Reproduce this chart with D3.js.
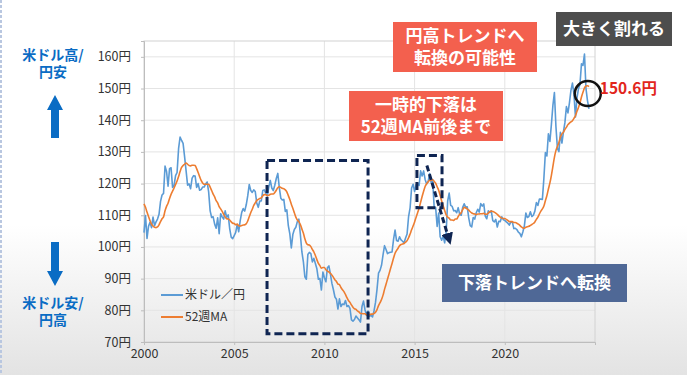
<!DOCTYPE html>
<html>
<head>
<meta charset="utf-8">
<script src="https://cdnjs.cloudflare.com/ajax/libs/d3/7.8.5/d3.min.js"></script>
<style>
  body { margin: 0; background: #fff; }
  svg { display: block; font-family: "Noto Sans CJK JP", "Noto Sans", sans-serif; }
</style>
</head>
<body>
<div id="vis"></div>
<script>
// monthly USD/JPY, Jan 2000 .. Sep 2024
const startYear = 2000;
const usdjpy = [
  104.5,109.9,102.7,106.5,107.8,106.1,109.4,106.7,107.9,108.8,110.3,114.4,
  116.4,116.9,125.5,123.8,119.2,124.7,125.0,118.8,119.4,122.5,123.5,131.0,
  134.7,133.6,132.7,128.5,124.0,119.5,119.9,118.4,121.7,122.5,122.4,118.8,
  120.0,117.9,118.1,118.9,118.9,119.9,120.5,117.4,111.4,109.3,109.5,107.2,
  105.9,109.2,104.2,110.5,109.5,108.8,111.4,109.4,110.1,105.8,103.1,102.6,
  103.6,104.6,107.1,104.8,108.3,110.9,112.1,111.3,113.3,116.1,119.7,117.8,
  117.2,118.0,117.5,113.9,112.5,114.5,114.5,117.8,118.0,117.0,116.0,118.9,
  121.0,118.6,117.8,119.5,121.6,123.2,118.7,115.4,114.8,115.0,111.2,111.7,
  106.7,104.1,99.7,103.9,105.5,106.2,108.0,108.8,104.0,98.5,95.4,90.6,
  89.8,97.6,98.3,97.9,95.3,96.4,94.8,93.1,89.8,90.1,86.4,92.1,
  90.3,89.0,93.4,94.0,91.4,88.5,86.5,84.2,83.5,80.4,83.6,81.2,
  82.0,81.8,83.1,81.2,81.5,80.6,77.0,76.6,77.1,78.2,77.6,77.0,
  76.3,81.2,82.9,80.2,78.4,79.8,78.1,78.4,77.9,79.8,82.5,86.6,
  91.7,92.6,94.2,97.5,100.4,99.2,97.9,98.2,98.3,98.4,102.4,105.3,
  102.0,101.8,103.2,102.2,101.8,101.3,102.8,104.1,109.6,112.3,118.6,119.8,
  117.5,119.6,120.1,119.4,124.0,122.4,124.0,121.3,119.9,120.6,123.2,120.3,
  121.0,112.7,112.4,106.5,110.7,103.2,102.1,103.4,101.3,104.8,114.5,117.0,
  113.1,112.8,111.4,111.5,110.8,112.4,110.3,110.0,112.5,113.6,112.5,112.7,
  109.2,106.7,106.3,109.3,108.8,110.8,111.9,111.0,113.7,112.9,113.6,109.7,
  108.9,111.4,110.9,111.4,108.3,107.9,108.7,106.3,108.1,108.0,109.5,108.6,
  108.4,107.9,107.5,106.9,107.8,107.9,105.8,105.9,105.5,104.7,104.3,103.2,
  104.7,106.6,110.7,109.3,109.6,111.1,109.6,110.0,111.3,114.0,113.1,115.1,
  115.1,115.0,121.7,129.8,128.7,135.7,133.3,138.7,144.7,148.7,138.1,131.1,
  130.1,136.2,132.8,136.3,139.3,144.3,142.3,145.5,149.4,151.7,148.2,141.0,
  147.0,149.9,151.3,157.8,157.3,160.9,150.0,146.2,143.6
];
// 52-week moving average, same months
const ma52 = [
  113.6,112.5,111.0,109.6,108.3,107.2,106.6,106.2,106.1,106.3,107.0,108.0,
  108.9,109.5,111.4,112.8,113.8,115.3,116.6,117.6,118.6,119.7,120.8,122.2,
  123.8,125.1,125.7,126.1,126.5,126.1,125.7,125.6,125.8,125.8,125.7,124.7,
  123.5,122.2,121.0,120.2,119.8,119.8,119.8,119.8,118.9,117.8,116.7,115.8,
  114.6,113.9,112.7,112.0,111.2,110.3,109.5,108.9,108.8,108.5,107.9,107.5,
  107.4,107.0,107.2,106.7,106.6,106.8,106.9,107.0,107.3,108.2,109.5,110.8,
  111.9,113.1,113.9,114.7,115.0,115.3,115.5,116.1,116.5,116.5,116.2,116.3,
  116.6,116.7,116.7,117.2,117.9,118.7,119.0,118.8,118.5,118.4,118.0,117.4,
  116.2,115.0,113.5,112.2,110.8,109.4,108.5,108.0,107.1,105.7,104.4,102.6,
  101.2,100.7,100.6,100.1,99.2,98.4,97.3,96.0,94.8,94.1,93.3,93.5,
  93.5,92.8,92.4,92.1,91.7,91.1,90.4,89.6,89.1,88.3,88.1,87.2,
  86.5,85.9,85.0,84.0,83.1,82.5,81.7,81.0,80.5,80.3,79.8,79.5,
  79.0,79.0,78.9,78.9,78.6,78.5,78.6,78.8,78.8,79.0,79.4,80.2,
  81.5,82.4,83.4,84.8,86.6,88.2,89.9,91.5,93.2,94.8,96.5,98.0,
  98.9,99.6,100.4,100.8,100.9,101.1,101.5,102.0,102.9,104.1,105.4,106.6,
  107.9,109.4,110.8,112.2,114.1,115.9,117.6,119.1,119.9,120.6,121.0,121.0,
  121.3,120.7,120.1,119.0,117.9,116.3,114.5,113.0,111.5,110.1,109.4,109.1,
  108.5,108.5,108.4,108.8,108.8,109.6,110.3,110.8,111.8,112.5,112.3,112.0,
  111.6,111.1,110.7,110.5,110.4,110.2,110.4,110.4,110.5,110.5,110.6,110.3,
  110.3,110.7,111.1,111.3,111.2,111.0,110.7,110.3,109.8,109.4,109.1,109.0,
  109.0,108.7,108.4,108.0,108.0,108.0,107.7,107.7,107.5,107.2,106.8,106.3,
  106.0,105.9,106.2,106.4,106.5,106.8,107.1,107.4,107.9,108.7,109.4,110.4,
  111.3,112.0,112.9,114.6,116.2,118.3,120.2,122.6,125.4,128.3,130.4,131.7,
  133.0,134.7,135.7,136.2,137.1,137.8,138.6,139.1,139.5,139.8,140.6,141.4,
  142.8,144.0,145.5,147.3,148.8,150.2,150.8,150.9,150.6
];
const yTicks = [70, 80, 90, 100, 110, 120, 130, 140, 150, 160];
const xTicks = [2000, 2005, 2010, 2015, 2020];
const seriesNames = ["米ドル／円", "52週MA"];
const lastMaLabel = "150.6円";

const W = 687, H = 375;
const plot = {left: 144, right: 595, top: 41, bottom: 342};

const svg = d3.select("#vis").append("svg").attr("width", W).attr("height", H);

// slide background: white fading to grey at the bottom
const defs = svg.append("defs");
const grad = defs.append("linearGradient").attr("id", "bg").attr("x1", 0).attr("y1", 0).attr("x2", 0).attr("y2", 1);
grad.append("stop").attr("offset", "0.6").attr("stop-color", "#ffffff");
grad.append("stop").attr("offset", "1").attr("stop-color", "#e3e3e3");
svg.append("rect").attr("width", W).attr("height", H).attr("fill", "url(#bg)");
svg.append("line").attr("x1", 1).attr("x2", 1).attr("y1", 0).attr("y2", H)
  .attr("stroke", "#b9c7e0").attr("stroke-width", 2).attr("stroke-dasharray", "3,2");

const x = d3.scaleLinear().domain([2000, 2025]).range([plot.left, plot.right]);
const y = d3.scaleLinear().domain([70, 165]).range([plot.bottom, plot.top]);

// grid
svg.append("g").selectAll("line").data(yTicks.slice(1)).join("line")
  .attr("x1", plot.left).attr("x2", plot.right)
  .attr("y1", d => y(d)).attr("y2", d => y(d))
  .attr("stroke", "#e4e4e4").attr("stroke-width", 1);
svg.append("g").selectAll("line").data(xTicks.slice(1)).join("line")
  .attr("x1", d => x(d)).attr("x2", d => x(d))
  .attr("y1", plot.top).attr("y2", plot.bottom)
  .attr("stroke", "#e4e4e4").attr("stroke-width", 1);
svg.append("rect")
  .attr("x", plot.left).attr("y", plot.top)
  .attr("width", plot.right - plot.left).attr("height", plot.bottom - plot.top)
  .attr("fill", "none").attr("stroke", "#d2d2d2");

// axes
const yAxis = svg.append("g").attr("transform", "translate(" + plot.left + ",0)")
  .call(d3.axisLeft(y).tickValues(yTicks).tickSize(3).tickPadding(10).tickFormat(d => d + "円"));
const xAxis = svg.append("g").attr("transform", "translate(0," + plot.bottom + ")")
  .call(d3.axisBottom(x).tickValues(xTicks).tickSize(3).tickPadding(4).tickFormat(d3.format("d")));
[yAxis, xAxis].forEach(a => {
  a.select(".domain").attr("stroke", "#bdbdbd");
  a.selectAll(".tick line").attr("stroke", "#bdbdbd");
  a.selectAll("text").attr("fill", "#333").style("font-size", "12.5px")
    .style("font-family", "'Noto Sans CJK JP', sans-serif");
});

// lines
const monthX = i => startYear + i / 12;
svg.append("path").datum(usdjpy)
  .attr("fill", "none").attr("stroke", "#5b9bd5").attr("stroke-width", 1.6)
  .attr("stroke-linejoin", "round")
  .attr("d", d3.line().x((d, i) => x(monthX(i))).y(d => y(d)));
svg.append("path").datum(ma52)
  .attr("fill", "none").attr("stroke", "#ed7d31").attr("stroke-width", 1.6)
  .attr("d", d3.line().curve(d3.curveMonotoneX).x((d, i) => x(monthX(i))).y(d => y(d)));

// legend
const legend = svg.append("g").attr("transform", "translate(161,295)");
seriesNames.forEach((name, i) => {
  const g = legend.append("g").attr("transform", "translate(0," + (i * 22) + ")");
  g.append("line").attr("x1", 0).attr("x2", 22)
    .attr("stroke", i ? "#ed7d31" : "#5b9bd5").attr("stroke-width", 2);
  g.append("text").attr("x", 24).attr("dy", "0.35em")
    .attr("fill", "#333").style("font-size", "12px").text(name);
});

// dashed annotation boxes
const navy = "#0f2552";
const dashBoxes = [
  {x0: 2006.82, x1: 2012.42, y0: 127.3, y1: 72.6},
  {x0: 2015.13, x1: 2016.52, y0: 128.9, y1: 112.4}
];
svg.append("g").selectAll("rect").data(dashBoxes).join("rect")
  .attr("x", d => x(d.x0)).attr("y", d => y(d.y0))
  .attr("width", d => x(d.x1) - x(d.x0)).attr("height", d => y(d.y1) - y(d.y0))
  .attr("fill", "none").attr("stroke", navy).attr("stroke-width", 3)
  .attr("stroke-dasharray", "8,4");

defs.append("marker").attr("id", "ah").attr("viewBox", "0 0 10 10")
  .attr("refX", 5).attr("refY", 5).attr("markerWidth", 4).attr("markerHeight", 4)
  .attr("orient", "auto-start-reverse")
  .append("path").attr("d", "M0,0L10,5L0,10z").attr("fill", navy);
svg.append("line")
  .attr("x1", x(2015.68)).attr("y1", y(125.7))
  .attr("x2", x(2016.9)).attr("y2", y(102.5))
  .attr("stroke", navy).attr("stroke-width", 3).attr("stroke-dasharray", "6,3")
  .attr("marker-end", "url(#ah)");

// circle round the last MA value
svg.append("ellipse")
  .attr("cx", x(2024.6)).attr("cy", y(148.4))
  .attr("rx", 13).attr("ry", 12.5)
  .attr("fill", "none").attr("stroke", "#111").attr("stroke-width", 2.5);
svg.append("text")
  .attr("x", x(2024.6) + 12).attr("y", y(148.4) - 7)
  .attr("fill", "#e2261c").style("font-size", "15.5px").style("font-weight", "bold")
  .attr("dominant-baseline", "central").text(lastMaLabel);

// call-out boxes (multi-line text as tspans)
const callouts = [
  {x: 393, y: 22, w: 144, h: 50, fill: "#f3604e", lines: ["円高トレンドへ", "転換の可能性"]},
  {x: 556, y: 12, w: 116, h: 34, fill: "#4d4d4d", lines: ["大きく割れる"]},
  {x: 349, y: 91, w: 154, h: 50, fill: "#f3604e", lines: ["一時的下落は", "52週MA前後まで"]},
  {x: 442, y: 264, w: 185, h: 38, fill: "#4f6896", lines: ["下落トレンドへ転換"]}
];
callouts.forEach(c => {
  const g = svg.append("g");
  g.append("rect").attr("x", c.x).attr("y", c.y).attr("width", c.w).attr("height", c.h).attr("fill", c.fill);
  const step = 22.5;
  const first = c.y + c.h / 2 - (c.lines.length - 1) / 2 * step + 6;
  const t = g.append("text").attr("text-anchor", "middle")
    .attr("fill", "#fff").style("font-size", "17px").style("font-weight", "bold");
  c.lines.forEach((s, i) => {
    t.append("tspan").attr("x", c.x + c.w / 2).attr("y", first + i * step).text(s);
  });
});

// side labels with arrows
const blue = "#0a6cc4";
const sideLabels = [["米ドル高/", "円安"], ["米ドル安/", "円高"]];
const sideY = [60, 308];
sideLabels.forEach((lines, k) => {
  const t = svg.append("text").attr("text-anchor", "middle").attr("fill", blue)
    .style("font-weight", "bold").style("font-size", "14px");
  lines.forEach((s, i) => {
    t.append("tspan").attr("x", 53).attr("y", sideY[k] + i * 17).text(s);
  });
});
svg.append("path").attr("fill", blue)
  .attr("d", "M55,95 L63,110 L59,110 L59,138 L51,138 L51,110 L47,110 Z");
svg.append("path").attr("fill", blue)
  .attr("d", "M51,242 L59,242 L59,271 L63,271 L55,286 L47,271 L51,271 Z");
</script>
</body>
</html>
